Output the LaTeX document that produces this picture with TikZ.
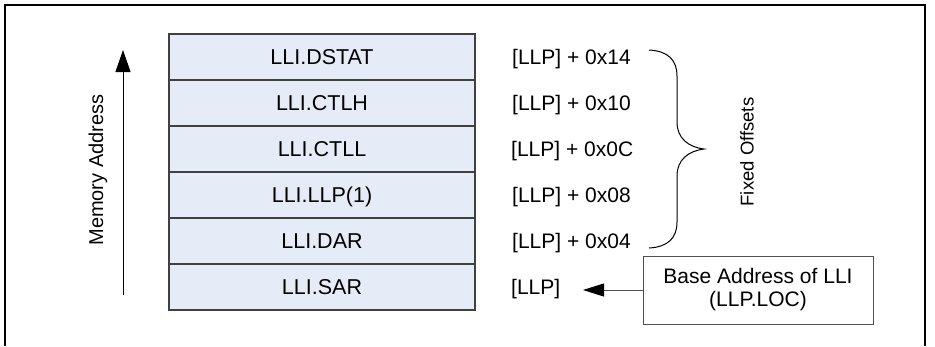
\documentclass[tikz,border=0pt]{standalone}
\usepackage{fontspec}
\setmainfont{Liberation Sans}
\usetikzlibrary{arrows.meta}
\definecolor{rowfill}{RGB}{230,236,247}
\definecolor{rowline}{RGB}{64,64,64}
\definecolor{graylink}{RGB}{80,80,80}
\begin{document}
\begin{tikzpicture}[x=1pt,y=-1pt,
  rowbox/.style={draw=rowline,line width=1.2pt,fill=rowfill,minimum width=306pt,minimum height=46pt,
    inner sep=0pt,text height=14.5pt,text depth=0pt,font=\fontsize{21.5}{25}\selectfont},
  offlabel/.style={anchor=west,inner sep=0pt,text height=14.5pt,text depth=0pt,font=\fontsize{21}{25}\selectfont},
  sidetext/.style={inner sep=0pt,font=\fontsize{20}{24}\selectfont}]
\useasboundingbox (0,0) rectangle (935,346);
% outer frame (open at the bottom)
\draw[line width=1.3pt] (5,346) -- (5,5) -- (925,5) -- (925,346);
% memory stack
\node[rowbox] (r5) at (322,57) {LLI.DSTAT};
\node[rowbox] (r4) at (322,103) {LLI.CTLH};
\node[rowbox] (r3) at (322,149) {LLI.CTLL};
\node[rowbox] (r2) at (322,195) {LLI.LLP(1)};
\node[rowbox] (r1) at (322,241) {LLI.DAR};
\node[rowbox] (r0) at (322,287) {LLI.SAR};
% offsets
\node[offlabel] (o5) at (512,57) {[LLP] + 0x14};
\node[offlabel] (o4) at (512,103) {[LLP] + 0x10};
\node[offlabel] (o3) at (511,149) {[LLP] + 0x0C};
\node[offlabel] (o2) at (512,195) {[LLP] + 0x08};
\node[offlabel] (o1) at (512,241) {[LLP] + 0x04};
\node[offlabel] (o0) at (511,287) {[LLP]};
% memory address arrow
\coordinate (maB) at (123,295);
\coordinate (maT) at (123,50);
\draw[line width=1pt,-{Triangle[length=22pt,width=15pt]}] (maB) -- (maT);
\node[sidetext,rotate=90] (ma) at (98,170) {Memory Address};
% brace
\draw[line width=1pt] (649,50) .. controls (668,51) and (677,60) .. (677,76)
  -- (677,122) .. controls (677,138) and (688,147) .. (704,149)
  .. controls (688,151) and (677,160) .. (677,176)
  -- (677,222) .. controls (677,238) and (668,247) .. (649,248);
\node[sidetext,rotate=90,font=\fontsize{18.5}{22}\selectfont] (fo) at (747,152) {Fixed Offsets};
% base address box
\node[draw=graylink,line width=1pt,minimum width=230pt,minimum height=68pt,inner sep=0pt,
  align=center,font=\fontsize{21}{23}\selectfont] (base) at (758,290) {Base Address of LLI\\(LLP.LOC)};
\coordinate (tip) at (583,290);
\draw[graylink,line width=1pt,-{Triangle[length=21pt,width=13pt,color=black]}] (base.west) -- (tip);
\end{tikzpicture}
\end{document}
